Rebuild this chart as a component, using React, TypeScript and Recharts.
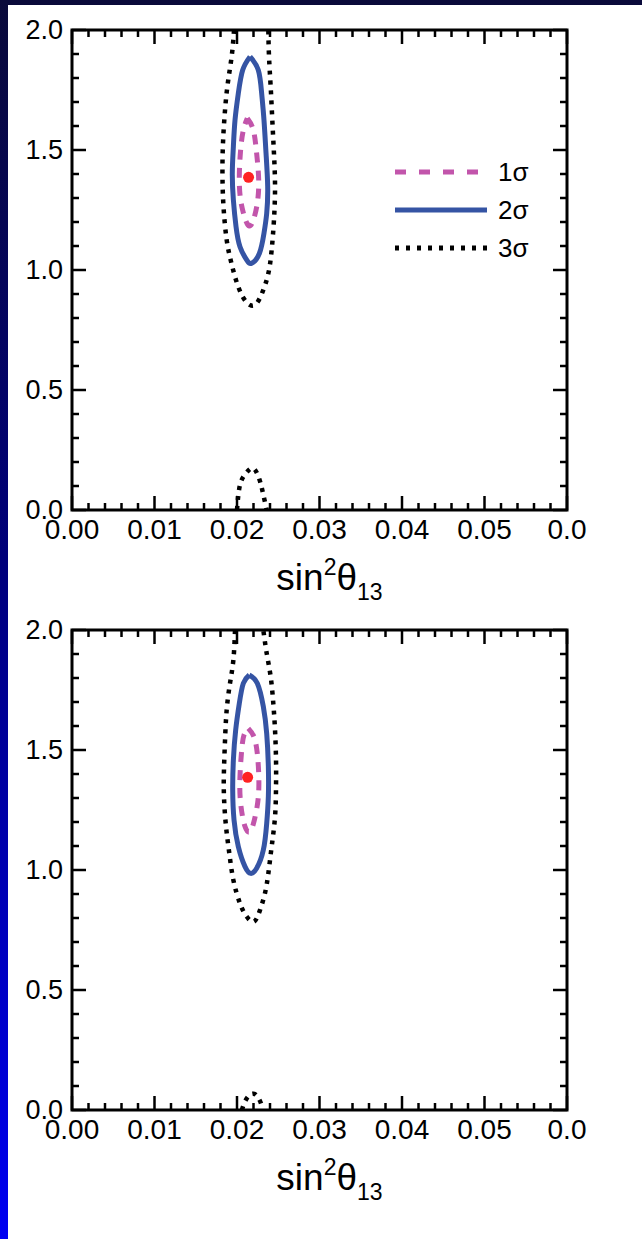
import React from "react";
import { ComposedChart, Line, Scatter, XAxis, YAxis, ReferenceArea, Legend } from "recharts";

// ---- axes / ticks ----
const X_MAJOR = [0, 0.01, 0.02, 0.03, 0.04, 0.05, 0.06];
const X_LABELS = ["0.00", "0.01", "0.02", "0.03", "0.04", "0.05", "0.0"];
const X_ALL = [0, 0.002, 0.004, 0.006, 0.008, 0.01, 0.012, 0.014, 0.016, 0.018, 0.02, 0.022, 0.024, 0.026, 0.028, 0.03, 0.032, 0.034, 0.036, 0.038, 0.04, 0.042, 0.044, 0.046, 0.048, 0.05, 0.052, 0.054, 0.056, 0.058, 0.06];
const Y_MAJOR = [0, 0.5, 1, 1.5, 2];
const Y_LABELS = ["0.0", "0.5", "1.0", "1.5", "2.0"];
const Y_ALL = [0, 0.1, 0.2, 0.3, 0.4, 0.5, 0.6, 0.7, 0.8, 0.9, 1, 1.1, 1.2, 1.3, 1.4, 1.5, 1.6, 1.7, 1.8, 1.9, 2];

// ---- top panel contours ----
const TOP_1S = [
  { x: 0.02125, y: 1.632 }, { x: 0.02198, y: 1.583 }, { x: 0.02238, y: 1.486 }, { x: 0.02263, y: 1.375 },
  { x: 0.02246, y: 1.278 }, { x: 0.02198, y: 1.208 }, { x: 0.02149, y: 1.183 }, { x: 0.02097, y: 1.215 },
  { x: 0.02044, y: 1.292 }, { x: 0.02028, y: 1.389 }, { x: 0.02044, y: 1.5 }, { x: 0.02077, y: 1.583 },
  { x: 0.02125, y: 1.632 },
];
const TOP_2S = [
  { x: 0.02158, y: 1.889 }, { x: 0.02258, y: 1.833 }, { x: 0.02299, y: 1.736 }, { x: 0.02327, y: 1.625 },
  { x: 0.02352, y: 1.486 }, { x: 0.02372, y: 1.347 }, { x: 0.0236, y: 1.236 }, { x: 0.02327, y: 1.153 },
  { x: 0.02271, y: 1.069 }, { x: 0.02178, y: 1.028 }, { x: 0.02117, y: 1.042 }, { x: 0.02036, y: 1.097 },
  { x: 0.01988, y: 1.181 }, { x: 0.01956, y: 1.292 }, { x: 0.01943, y: 1.403 }, { x: 0.01956, y: 1.514 },
  { x: 0.01976, y: 1.625 }, { x: 0.02016, y: 1.736 }, { x: 0.02069, y: 1.833 }, { x: 0.02158, y: 1.889 },
];
const TOP_3S = [
  { x: 0.01964, y: 2.0 }, { x: 0.01935, y: 1.889 }, { x: 0.01883, y: 1.764 }, { x: 0.01846, y: 1.625 },
  { x: 0.01826, y: 1.486 }, { x: 0.01826, y: 1.347 }, { x: 0.01842, y: 1.236 }, { x: 0.01875, y: 1.125 },
  { x: 0.01923, y: 1.042 }, { x: 0.01988, y: 0.958 }, { x: 0.02069, y: 0.889 }, { x: 0.02158, y: 0.854 },
  { x: 0.02238, y: 0.861 }, { x: 0.02311, y: 0.91 }, { x: 0.0238, y: 0.986 }, { x: 0.0242, y: 1.083 },
  { x: 0.02448, y: 1.208 }, { x: 0.02461, y: 1.347 }, { x: 0.02448, y: 1.486 }, { x: 0.02428, y: 1.625 },
  { x: 0.02408, y: 1.764 }, { x: 0.02388, y: 1.889 }, { x: 0.0238, y: 2.0 },
];
const TOP_3S_LOW = [
  { x: 0.02, y: 0.0 }, { x: 0.02036, y: 0.104 }, { x: 0.02109, y: 0.153 }, { x: 0.02198, y: 0.174 },
  { x: 0.02271, y: 0.128 }, { x: 0.02311, y: 0.076 }, { x: 0.0236, y: 0.0 },
];
const TOP_BEST = [{ x: 0.0214, y: 1.386 }];

// ---- bottom panel contours ----
const BOT_1S = [
  { x: 0.02137, y: 1.59 }, { x: 0.02218, y: 1.542 }, { x: 0.02259, y: 1.431 }, { x: 0.02259, y: 1.306 },
  { x: 0.0221, y: 1.208 }, { x: 0.02158, y: 1.16 }, { x: 0.02097, y: 1.181 }, { x: 0.02044, y: 1.278 },
  { x: 0.02036, y: 1.389 }, { x: 0.02057, y: 1.5 }, { x: 0.02085, y: 1.5625 }, { x: 0.02137, y: 1.59 },
];
const BOT_2S = [
  { x: 0.02149, y: 1.8125 }, { x: 0.02246, y: 1.778 }, { x: 0.02319, y: 1.681 }, { x: 0.0236, y: 1.569 },
  { x: 0.0238, y: 1.431 }, { x: 0.0238, y: 1.306 }, { x: 0.0236, y: 1.194 }, { x: 0.02319, y: 1.083 },
  { x: 0.02238, y: 1.007 }, { x: 0.02166, y: 0.986 }, { x: 0.02097, y: 1.014 }, { x: 0.02016, y: 1.097 },
  { x: 0.01964, y: 1.208 }, { x: 0.01948, y: 1.333 }, { x: 0.01956, y: 1.458 }, { x: 0.01984, y: 1.583 },
  { x: 0.02028, y: 1.694 }, { x: 0.02077, y: 1.778 }, { x: 0.02149, y: 1.8125 },
];
const BOT_3S = [
  { x: 0.01976, y: 2.0 }, { x: 0.01956, y: 1.875 }, { x: 0.01915, y: 1.778 }, { x: 0.01875, y: 1.667 },
  { x: 0.01855, y: 1.542 }, { x: 0.01842, y: 1.417 }, { x: 0.01842, y: 1.306 }, { x: 0.01867, y: 1.181 },
  { x: 0.01907, y: 1.069 }, { x: 0.01956, y: 0.958 }, { x: 0.02036, y: 0.861 }, { x: 0.02117, y: 0.806 },
  { x: 0.02206, y: 0.785 }, { x: 0.02279, y: 0.833 }, { x: 0.02339, y: 0.903 }, { x: 0.0238, y: 0.986 },
  { x: 0.0242, y: 1.097 }, { x: 0.02461, y: 1.222 }, { x: 0.02473, y: 1.347 }, { x: 0.02473, y: 1.458 },
  { x: 0.02461, y: 1.583 }, { x: 0.0244, y: 1.694 }, { x: 0.02408, y: 1.806 }, { x: 0.0236, y: 1.903 },
  { x: 0.02319, y: 2.0 },
];
const BOT_3S_LOW = [
  { x: 0.0206, y: 0.0 }, { x: 0.0209, y: 0.03 }, { x: 0.0214, y: 0.058 }, { x: 0.022, y: 0.068 },
  { x: 0.0225, y: 0.055 }, { x: 0.0229, y: 0.028 }, { x: 0.0231, y: 0.0 },
];
const BOT_BEST = [{ x: 0.02129, y: 1.386 }];

const NAMES = ["1σ", "2σ", "3σ"];
const COLORS = { s1: "#c255ab", s2: "#3554a4", s3: "#000000", best: "#ff2222" };

const FONT = "'Liberation Sans', Arial, Helvetica, sans-serif";
const PLOT_W = 495;
const PLOT_H = 480;
const MAJ = 14;
const MIN = 7;

const isIn = (arr: number[], v: number) => arr.findIndex((m) => Math.abs(m - v) < 1e-9);

const XTick = (props: any) => {
  const { x, y, payload } = props;
  const i = isIn(X_MAJOR, payload.value);
  const len = i >= 0 ? MAJ : MIN;
  return (
    <g>
      <line x1={x} y1={y} x2={x} y2={y - len} stroke="#000" strokeWidth={2.5} />
      <line x1={x} y1={y - PLOT_H} x2={x} y2={y - PLOT_H + len} stroke="#000" strokeWidth={2.5} />
      {i >= 0 && (
        <text x={x} y={y + 29} textAnchor="middle" fontSize={28} fontFamily={FONT} fill="#000">
          {X_LABELS[i]}
        </text>
      )}
    </g>
  );
};

const YTick = (props: any) => {
  const { x, y, payload } = props;
  const i = isIn(Y_MAJOR, payload.value);
  const len = i >= 0 ? MAJ : MIN;
  return (
    <g>
      <line x1={x} y1={y} x2={x + len} y2={y} stroke="#000" strokeWidth={2.5} />
      <line x1={x + PLOT_W} y1={y} x2={x + PLOT_W - len} y2={y} stroke="#000" strokeWidth={2.5} />
      {i >= 0 && (
        <text x={x - 9} y={y + 9} textAnchor="end" fontSize={27} fontFamily={FONT} fill="#000">
          {Y_LABELS[i]}
        </text>
      )}
    </g>
  );
};

const XTitle = (props: any) => {
  const vb = props.viewBox || { x: 0, y: 0, width: 0, height: 0 };
  const cx = vb.x + vb.width / 2 + 10;
  return (
    <text x={cx} y={vb.y + 80} textAnchor="middle" fontSize={37} fontFamily={FONT} fill="#000">
      <tspan>sin</tspan>
      <tspan dy={-15} fontSize={23}>2</tspan>
      <tspan dy={15}>θ</tspan>
      <tspan dy={10} fontSize={23}>13</tspan>
    </text>
  );
};

const LEGEND_STYLE: Record<string, { color: string; dash?: string; w: number; len: number }> = {
  "1σ": { color: COLORS.s1, dash: "11 13", w: 5, len: 86 },
  "2σ": { color: COLORS.s2, w: 5, len: 92 },
  "3σ": { color: COLORS.s3, dash: "4 7", w: 5, len: 92 },
};

const LegendContent = (props: any) => {
  const items = (props.payload || []).filter((p: any) => LEGEND_STYLE[p.value]);
  return (
    <svg width={170} height={120}>
      {items.map((p: any, k: number) => {
        const st = LEGEND_STYLE[p.value];
        const cy = 15 + k * 38;
        return (
          <g key={p.value}>
            <line x1={2} y1={cy} x2={2 + st.len} y2={cy} stroke={st.color} strokeWidth={st.w} strokeDasharray={st.dash} />
            <text x={105} y={cy + 9} fontSize={26} fontFamily={FONT} fill="#000">{p.value}</text>
          </g>
        );
      })}
    </svg>
  );
};

type Pt = { x: number; y: number };

const Panel = ({ s1, s2, s3, s3low, best, legend }: { s1: Pt[]; s2: Pt[]; s3: Pt[]; s3low: Pt[]; best: Pt[]; legend: boolean }) => (
  <ComposedChart width={642} height={620} margin={{ top: 30, right: 75, bottom: 20, left: 0 }}>
    <XAxis
      type="number"
      dataKey="x"
      domain={[0, 0.06]}
      ticks={X_ALL}
      interval={0}
      allowDataOverflow
      axisLine={false}
      tickLine={false}
      tickSize={0}
      tickMargin={0}
      height={90}
      tick={(p: any) => <XTick {...p} />}
      label={{ content: (p: any) => <XTitle {...p} /> }}
    />
    <YAxis
      type="number"
      dataKey="y"
      domain={[0, 2]}
      ticks={Y_ALL}
      interval={0}
      allowDataOverflow
      axisLine={false}
      tickLine={false}
      tickSize={0}
      tickMargin={0}
      width={72}
      tick={(p: any) => <YTick {...p} />}
    />
    <ReferenceArea x1={0} x2={0.06} y1={0} y2={2} fill="none" fillOpacity={0} stroke="#000" strokeWidth={3} />
    <Line data={s1} dataKey="y" name={NAMES[0]} type="natural" stroke={COLORS.s1} strokeWidth={5} strokeDasharray="10 8" dot={false} activeDot={false} isAnimationActive={false} />
    <Line data={s2} dataKey="y" name={NAMES[1]} type="natural" stroke={COLORS.s2} strokeWidth={5} dot={false} activeDot={false} isAnimationActive={false} />
    <Line data={s3} dataKey="y" name={NAMES[2]} type="natural" stroke={COLORS.s3} strokeWidth={4.5} strokeDasharray="4 6" dot={false} activeDot={false} isAnimationActive={false} />
    <Line data={s3low} dataKey="y" name="3σ low" legendType="none" type="natural" stroke={COLORS.s3} strokeWidth={4.5} strokeDasharray="4 6" dot={false} activeDot={false} isAnimationActive={false} />
    <Scatter data={best} dataKey="y" name="best" legendType="none" fill={COLORS.best} shape={(p: any) => <circle cx={p.cx} cy={p.cy} r={5.5} fill={COLORS.best} />} isAnimationActive={false} />
    {legend && (
      <Legend
        layout="vertical"
        align="center"
        verticalAlign="middle"
        content={(p: any) => <LegendContent {...p} />}
        wrapperStyle={{ position: "absolute", left: 393, top: 157, width: 170, height: 120 }}
      />
    )}
  </ComposedChart>
);

export default function App() {
  return (
    <div
      style={{
        position: "relative",
        width: 642,
        height: 1239,
        background: "linear-gradient(to bottom, #0a0a3a 0%, #00007a 45%, #0000f2 100%)",
        overflow: "hidden",
      }}
    >
      <style>{`body{margin:0;}`}</style>
      <div style={{ position: "absolute", left: 8, top: 5, right: 0, bottom: 0, background: "#fff" }} />
      <div style={{ position: "absolute", left: 0, top: 0 }}>
        <Panel s1={TOP_1S} s2={TOP_2S} s3={TOP_3S} s3low={TOP_3S_LOW} best={TOP_BEST} legend={true} />
      </div>
      <div style={{ position: "absolute", left: 0, top: 600 }}>
        <Panel s1={BOT_1S} s2={BOT_2S} s3={BOT_3S} s3low={BOT_3S_LOW} best={BOT_BEST} legend={false} />
      </div>
    </div>
  );
}
